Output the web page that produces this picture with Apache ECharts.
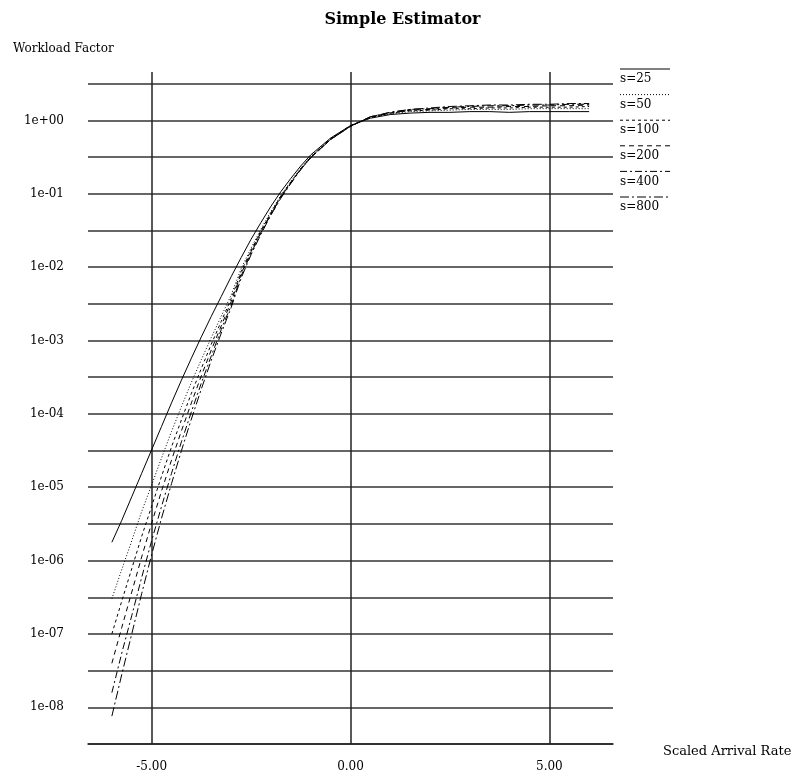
<!DOCTYPE html>
<html><head><meta charset="utf-8">
<script src="https://cdn.jsdelivr.net/npm/echarts@6/dist/echarts.min.js"></script>
<style>html,body{margin:0;padding:0;background:#fff}#c{width:805px;height:780px}</style>
</head><body><div id="c"></div>
<script>
// Scaled arrival rate (x)
const xValues = [-6, -5.75, -5.5, -5.25, -5, -4.75, -4.5, -4.25, -4, -3.75, -3.5, -3.25, -3, -2.75, -2.5, -2.25, -2, -1.75, -1.5, -1.25, -1, -0.5, 0, 0.5, 1, 1.5, 2, 2.5, 3, 3.5, 4, 4.5, 5, 5.5, 6];
// log10 of workload factor
const s25 = [-5.75, -5.45, -5.13, -4.81, -4.49, -4.17, -3.85, -3.54, -3.24, -2.95, -2.67, -2.40, -2.13, -1.87, -1.62, -1.39, -1.17, -0.97, -0.79, -0.62, -0.47, -0.24, -0.07, 0.03, 0.08, 0.10, 0.11, 0.11, 0.12, 0.12, 0.11, 0.12, 0.12, 0.12, 0.12];
const s50 = [-6.52, -6.12, -5.73, -5.33, -4.97, -4.60, -4.24, -3.90, -3.57, -3.26, -2.96, -2.67, -2.38, -2.02, -1.74, -1.48, -1.24, -1.02, -0.83, -0.65, -0.49, -0.25, -0.07, 0.04, 0.09, 0.12, 0.13, 0.14, 0.15, 0.15, 0.15, 0.16, 0.16, 0.16, 0.16];
const s100 = [-7.00, -6.55, -6.11, -5.67, -5.26, -4.85, -4.45, -4.08, -3.72, -3.38, -3.05, -2.74, -2.43, -2.06, -1.77, -1.50, -1.26, -1.03, -0.84, -0.66, -0.50, -0.25, -0.07, 0.04, 0.10, 0.13, 0.14, 0.16, 0.16, 0.17, 0.17, 0.18, 0.18, 0.18, 0.19];
const s200 = [-7.40, -6.91, -6.43, -5.95, -5.49, -5.05, -4.63, -4.23, -3.85, -3.48, -3.13, -2.80, -2.47, -2.09, -1.79, -1.52, -1.27, -1.04, -0.85, -0.66, -0.50, -0.26, -0.08, 0.05, 0.10, 0.14, 0.15, 0.17, 0.18, 0.18, 0.19, 0.19, 0.20, 0.20, 0.21];
const s400 = [-7.80, -7.26, -6.75, -6.23, -5.73, -5.26, -4.81, -4.38, -3.97, -3.58, -3.21, -2.85, -2.52, -2.12, -1.81, -1.53, -1.28, -1.05, -0.85, -0.67, -0.51, -0.26, -0.08, 0.05, 0.11, 0.15, 0.16, 0.18, 0.19, 0.20, 0.20, 0.21, 0.21, 0.22, 0.22];
const s800 = [-8.12, -7.55, -7.00, -6.45, -5.92, -5.42, -4.95, -4.50, -4.07, -3.66, -3.27, -2.90, -2.55, -2.15, -1.83, -1.55, -1.29, -1.06, -0.86, -0.67, -0.51, -0.26, -0.08, 0.05, 0.11, 0.15, 0.17, 0.19, 0.20, 0.21, 0.21, 0.22, 0.22, 0.23, 0.23];
const seriesNames = ['s=25', 's=50', 's=100', 's=200', 's=400', 's=800'];
const seriesValues = [s25, s50, s100, s200, s400, s800];
const xTickValues = [-5, 0, 5];
const yTickExponents = [-8, -7, -6, -5, -4, -3, -2, -1, 0];

const dashes = ['solid', [1, 2], [3, 3], [5, 4], [7, 3, 2, 3], [9, 3, 2, 3]];
const FONT = "'DejaVu Serif', 'Liberation Serif', serif";
const yGridLines = [];
for (let e = -8.5; e <= 0.5001; e += 0.5) yGridLines.push(Math.round(e * 10) / 10);

function expLabel(v) {
  const e = Math.round(v);
  return '1e' + (e >= 0 ? '+' : '-') + String(Math.abs(e)).padStart(2, '0');
}

const chart = echarts.init(document.getElementById('c'), null, {renderer: 'canvas'});
const legendGraphics = [];
seriesNames.forEach((n, i) => {
  const ly = 69 + 25.6 * i;
  legendGraphics.push({
    type: 'line', shape: {x1: 620, y1: ly, x2: 670, y2: ly},
    style: {stroke: '#000', lineWidth: 1, lineDash: dashes[i] === 'solid' ? null : dashes[i]}
  });
  legendGraphics.push({
    type: 'text', x: 620, y: ly + 10,
    style: {text: n, font: '12px ' + FONT, fill: '#000', textVerticalAlign: 'middle'}
  });
});

chart.setOption({
  animation: false,
  backgroundColor: '#fff',
  title: [
    {text: 'Simple Estimator', left: 'center', top: 7,
     textStyle: {fontFamily: FONT, fontSize: 16, fontWeight: 'bold', color: '#000'}},
    {text: 'Workload Factor', left: 8, top: 38,
     textStyle: {fontFamily: FONT, fontSize: 12, fontWeight: 'normal', color: '#000'}},
    {text: 'Scaled Arrival Rate', left: 658, top: 740,
     textStyle: {fontFamily: FONT, fontSize: 13, fontWeight: 'normal', color: '#000'}}
  ],
  grid: {left: 88, right: 192, top: 72, bottom: 36, containLabel: false},
  xAxis: {
    type: 'value', min: -6.6, max: 6.6,
    axisLine: {show: true, onZero: false, lineStyle: {color: '#222', width: 1.5}},
    axisTick: {show: false, customValues: xTickValues},
    axisLabel: {customValues: xTickValues, formatter: v => v.toFixed(2), margin: 17,
      fontFamily: FONT, fontSize: 12, color: '#000'},
    splitLine: {show: true, lineStyle: {color: '#222', width: 1.5}}
  },
  yAxis: {
    type: 'value', min: -8.5, max: 0.66,
    axisLine: {show: false},
    axisTick: {show: false, customValues: yGridLines},
    axisLabel: {customValues: yTickExponents, formatter: expLabel, margin: 24,
      fontFamily: FONT, fontSize: 12, color: '#000'},
    splitLine: {show: true, lineStyle: {color: '#333', width: 1.5}}
  },
  graphic: legendGraphics,
  series: seriesNames.map((n, i) => ({
    name: n, type: 'line', symbol: 'none', showSymbol: false,
    lineStyle: {color: '#000', width: 1, type: dashes[i]},
    data: xValues.map((x, j) => [x, seriesValues[i][j]])
  }))
});
</script>
</body></html>
